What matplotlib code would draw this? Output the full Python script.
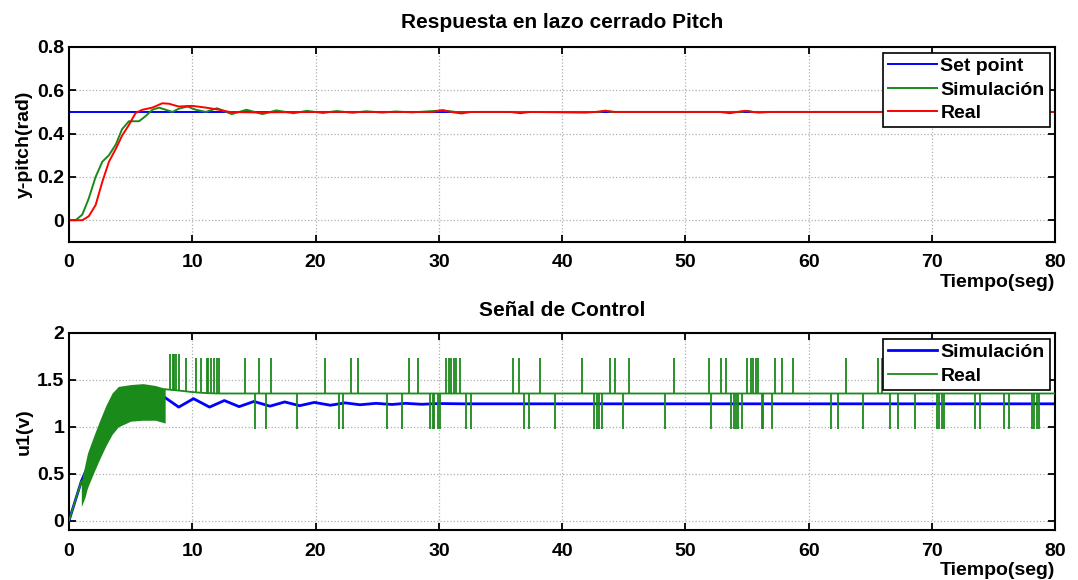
import numpy as np
import matplotlib
matplotlib.use('Agg')
import matplotlib.pyplot as plt

plt.rcParams['font.family'] = ['Liberation Sans', 'DejaVu Sans']
plt.rcParams['font.weight'] = 'bold'

# --- top: closed loop pitch response ---
setpoint = 0.5
t_sim = [0, 0.54, 1.08, 1.6, 2.16, 2.7, 3.24, 3.8, 4.3, 4.86, 5.68, 6.2, 6.76, 7.3, 7.84,
         8.4, 8.9, 9.6, 10.3, 11.1, 12.0, 13.2, 14.4, 15.7, 16.8, 18.2, 19.3, 20.6, 21.7,
         23.0, 24.1, 25.4, 26.5, 27.8, 29.0, 30.3, 31.5, 33, 43, 43.5, 44, 54.5, 55, 55.5, 80]
y_sim = [0, 0, 0.026, 0.10, 0.20, 0.27, 0.30, 0.35, 0.42, 0.457, 0.457, 0.48, 0.51, 0.52, 0.51,
         0.50, 0.515, 0.525, 0.51, 0.50, 0.517, 0.49, 0.51, 0.49, 0.507, 0.494, 0.505, 0.495, 0.504,
         0.496, 0.503, 0.497, 0.502, 0.498, 0.502, 0.507, 0.499, 0.5, 0.5, 0.506, 0.5, 0.5, 0.505, 0.5, 0.5]
t_real = [0, 1.08, 1.6, 2.16, 2.7, 3.24, 3.8, 4.3, 4.86, 5.4, 5.95, 6.76, 7.57, 8.1, 8.9, 10.0,
          11.1, 12.2, 13.0, 15.0, 20, 29.5, 30.3, 31.0, 31.8, 32.6, 35.8, 36.6, 37.4, 41.9, 42.7,
          43.5, 44.3, 52.8, 53.6, 54.2, 54.8, 55.4, 56.0, 56.8, 80]
y_real = [0, 0, 0.018, 0.07, 0.177, 0.27, 0.33, 0.39, 0.44, 0.495, 0.51, 0.52, 0.54, 0.538, 0.525, 0.528,
          0.52, 0.51, 0.5, 0.498, 0.5, 0.5, 0.508, 0.5, 0.493, 0.5, 0.5, 0.494, 0.5, 0.497, 0.5,
          0.505, 0.5, 0.5, 0.494, 0.5, 0.505, 0.5, 0.497, 0.5, 0.5]

# --- bottom: control signal ---
t_u_sim = [0, 1, 2, 3, 4, 5, 6, 7.7, 8.9, 10.1, 11.4, 12.6, 13.8, 15.0, 16.3, 17.5, 18.7, 19.9, 21.2,
           22.4, 23.6, 24.9, 26.2, 27.3, 28.6, 30, 32, 80]
u_sim = [0, 0.42, 0.72, 1.0, 1.2, 1.26, 1.25, 1.32, 1.21, 1.30, 1.21, 1.28, 1.215, 1.27, 1.22, 1.265,
         1.225, 1.26, 1.23, 1.255, 1.235, 1.25, 1.238, 1.25, 1.24, 1.248, 1.245, 1.245]

t_start = [0, 1]
u_start = [0, 0.42]
band_t = [1.0, 1.3, 1.5, 2.0, 2.5, 3.0, 3.5, 4.0, 5.0, 6.0, 7.0, 7.8]
band_hi = [0.42, 0.6, 0.72, 0.90, 1.07, 1.23, 1.36, 1.43, 1.45, 1.46, 1.44, 1.41]
band_lo = [0.15, 0.25, 0.35, 0.51, 0.66, 0.80, 0.92, 1.0, 1.06, 1.07, 1.07, 1.04]
base_t = [7.8, 9.0, 10.0, 11.0, 12.0, 80]
base_u = [1.40, 1.385, 1.37, 1.36, 1.355, 1.355]

spike_hi_early = [8.2, 8.4, 8.5, 8.7, 8.9]
spike_hi = [9.5, 10.3, 10.7, 11.2, 11.3, 11.5, 11.8, 11.98, 12.2, 14.3, 15.4, 16.4,
            20.76, 22.9, 23.4, 27.6, 28.3, 30.6, 30.8, 30.96, 31.2, 31.4, 31.7, 36.0, 36.5, 38.2,
            41.6, 43.9, 44.3, 45.4, 49.1, 51.9, 52.9, 53.3, 55.0, 55.3, 55.5, 55.7, 55.9, 57.3,
            57.8, 58.7, 63.0, 65.6, 65.9]
spike_lo = [15.1, 15.95, 18.5, 21.9, 22.2, 25.8, 27.0, 29.3, 29.5, 29.6, 29.9, 30.1, 32.2, 32.6,
            36.9, 37.3, 39.4, 42.6, 42.8, 43.0, 43.2, 44.95, 48.3, 52.1, 53.7, 53.9, 54.1, 54.3,
            54.6, 56.2, 56.3, 57.0, 61.8, 62.4, 64.4, 66.6, 67.2, 68.6, 70.4, 70.6, 70.8, 71.0,
            73.5, 73.9, 75.8, 76.2, 78.1, 78.3, 78.5, 78.7]
top_early, top_rest, bottom_lvl = 1.78, 1.73, 0.975

green = '#1a8a1a'
fs = 14
fig = plt.figure(figsize=(10.78, 5.8), dpi=100)
ax1 = fig.add_axes([0.064, 0.583, 0.915, 0.336])
ax2 = fig.add_axes([0.064, 0.086, 0.915, 0.340])

ax1.plot([0, 80], [setpoint, setpoint], color='#0000ff', lw=1.4, label='Set point')
ax1.plot(t_sim, y_sim, color=green, lw=1.4, label='Simulación')
ax1.plot(t_real, y_real, color='#ff0000', lw=1.4, label='Real')
ax1.set_ylim(-0.1, 0.8)
ax1.set_yticks([0, 0.2, 0.4, 0.6, 0.8])
ax1.set_yticklabels(['0', '0.2', '0.4', '0.6', '0.8'])
ax1.set_ylabel('y-pitch(rad)', fontsize=fs, fontweight='bold', labelpad=3)
ax1.set_title('Respuesta en lazo cerrado Pitch', fontsize=15, fontweight='bold', pad=14)

ax2.plot(t_u_sim, u_sim, color='#0000ff', lw=2, label='Simulación', zorder=2)
ax2.fill_between(band_t, band_lo, band_hi, color=green, lw=0, zorder=3)
ax2.plot(t_start, u_start, color=green, lw=1.3, zorder=3)
ax2.plot(base_t, base_u, color=green, lw=1.3, label='Real', zorder=3)
ax2.vlines(spike_hi_early, np.interp(spike_hi_early, base_t, base_u), top_early, color=green, lw=1.3, zorder=3)
ax2.vlines(spike_hi, np.interp(spike_hi, base_t, base_u), top_rest, color=green, lw=1.3, zorder=3)
ax2.vlines(spike_lo, bottom_lvl, np.interp(spike_lo, base_t, base_u), color=green, lw=1.3, zorder=3)
ax2.set_ylim(-0.1, 2)
ax2.set_yticks([0, 0.5, 1, 1.5, 2])
ax2.set_yticklabels(['0', '0.5', '1', '1.5', '2'])
ax2.set_ylabel('u1(v)', fontsize=fs, fontweight='bold', labelpad=3)
ax2.set_title('Señal de Control', fontsize=15, fontweight='bold', pad=12)

for ax in (ax1, ax2):
    ax.set_xlim(0, 80)
    ax.set_xticks(range(0, 81, 10))
    ax.grid(True, color='#b0b0b0', ls=':', lw=0.9)
    ax.tick_params(direction='in', top=True, right=True, length=5, width=1.3, labelsize=fs)
    ax.tick_params(axis='x', pad=9)
    for lab in ax.get_xticklabels() + ax.get_yticklabels():
        lab.set_fontweight('bold')
    for sp in ax.spines.values():
        sp.set_linewidth(1.5)
    ax.set_xlabel('Tiempo(seg)', fontsize=fs, fontweight='bold', loc='right', labelpad=2)
    leg = ax.legend(loc='upper right', fancybox=False, edgecolor='black', framealpha=1,
                    prop={'size': fs, 'weight': 'bold'}, handlelength=2.5,
                    borderpad=0.25, labelspacing=0.3, handletextpad=0.2, borderaxespad=0.3)
    leg.get_frame().set_linewidth(1.2)

fig.savefig('out.png', dpi=100)
